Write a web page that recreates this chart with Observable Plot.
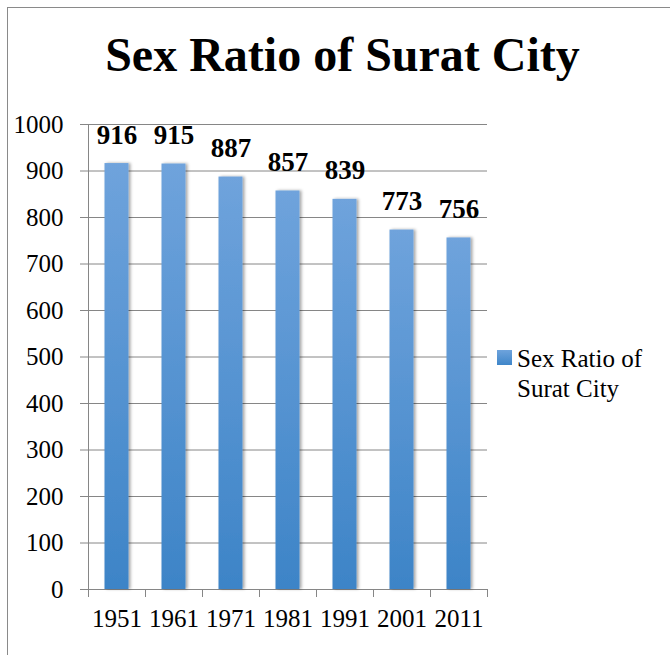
<!DOCTYPE html>
<html>
<head>
<meta charset="utf-8">
<script src="https://cdn.jsdelivr.net/npm/d3@7"></script>
<script src="https://cdn.jsdelivr.net/npm/@observablehq/plot@0.6"></script>
<style>
  body { margin: 0; background: #fff; }
  #wrap { position: relative; width: 670px; height: 655px; overflow: hidden; font-family: "Liberation Serif", "Times New Roman", serif; }
  #border { position: absolute; left: 7px; top: 7px; width: 700px; height: 700px; border-top: 1px solid #8a8a8a; border-left: 1px solid #8a8a8a; }
  #title { position: absolute; left: 0; width: 685px; top: 27px; text-align: center; font-weight: bold; font-size: 48px; line-height: 56px; color: #000; }
  #legend { position: absolute; left: 497px; top: 344px; font-size: 25px; line-height: 30px; color: #000; }
  #legend .sw { position: absolute; left: 0; top: 6px; width: 15px; height: 15px; background: linear-gradient(#6ea3dc, #3f86c9); }
  #legend .tx { margin-left: 20px; }
  #chart { position: absolute; left: 0; top: 0; width: 670px; height: 655px; }
</style>
</head>
<body>
<div id="wrap">
  <div id="border"></div>
  <div id="chart"></div>
  <div id="title"></div>
  <div id="legend"><div class="sw"></div><div class="tx"></div></div>
</div>
<script>
const title = "Sex Ratio of Surat City";
const seriesName = "Sex Ratio of Surat City";
const legendLines = ["Sex Ratio of", "Surat City"];
const years = ["1951", "1961", "1971", "1981", "1991", "2001", "2011"];
const ratios = [916, 915, 887, 857, 839, 773, 756];
const yTicks = [0, 100, 200, 300, 400, 500, 600, 700, 800, 900, 1000];

const data = years.map((year, i) => ({year, ratio: ratios[i]}));

document.getElementById("title").textContent = title;
document.querySelector("#legend .tx").innerHTML = legendLines.join("<br>");

const W = 670, H = 655;
const mL = 88, mR = 183, mT = 124, mB = 66;
const bw = (W - mL - mR) / years.length;
const inset = (bw - 24) / 2;
const gray = "#868686";
const font = "'Liberation Serif', 'Times New Roman', serif";

const chart = Plot.plot({
  width: W,
  height: H,
  marginLeft: mL,
  marginRight: mR,
  marginTop: mT,
  marginBottom: mB,
  style: {fontFamily: font, fontSize: "25px", color: "#000", background: "transparent"},
  x: {domain: years, padding: 0, label: null},
  y: {domain: [0, 1000], label: null},
  marks: [
    Plot.gridY(yTicks, {stroke: gray, strokeOpacity: 1}),
    Plot.axisY(yTicks, {tickSize: 8, tickFormat: () => "", stroke: gray, strokeOpacity: 1, label: null}),
    Plot.axisY(yTicks, {tickSize: 0, tickPadding: 25, tickFormat: d => String(d), fontSize: 25, fill: "#000", label: null}),
    Plot.ruleX([0], {x: () => years[0], dx: -bw / 2, y1: 0, y2: 1000, stroke: gray}),
    Plot.axisX(years, {tickSize: 8, dx: -bw / 2, tickFormat: () => "", stroke: gray, label: null}),
    Plot.axisX([years[years.length - 1]], {tickSize: 8, dx: bw / 2, tickFormat: () => "", stroke: gray, label: null}),
    Plot.axisX(years, {tickSize: 0, tickPadding: 20, fontSize: 25, fill: "#000", label: null}),
    Plot.barY(data, {x: "year", y: "ratio", fill: "url(#barGrad)", insetLeft: inset, insetRight: inset, title: d => `${seriesName}: ${d.ratio}`}),
    Plot.text(data, {x: "year", y: "ratio", text: d => String(d.ratio), lineAnchor: "bottom", dy: -20, fontSize: 27, fontWeight: "bold", fill: "#000"})
  ]
});

const ns = "http://www.w3.org/2000/svg";
const defs = document.createElementNS(ns, "defs");
defs.innerHTML = `
  <linearGradient id="barGrad" x1="0" y1="0" x2="0" y2="1">
    <stop offset="0" stop-color="#6fa3dc"/>
    <stop offset="1" stop-color="#3d84c7"/>
  </linearGradient>
  <filter id="barShadow" x="-30%" y="-5%" width="160%" height="110%">
    <feDropShadow dx="2" dy="0" stdDeviation="1.6" flood-color="#000" flood-opacity="0.35"/>
  </filter>`;
chart.insertBefore(defs, chart.firstChild);
chart.querySelectorAll("rect").forEach(r => {
  if (r.getAttribute("fill") === "url(#barGrad)" || (r.parentNode && r.parentNode.getAttribute("fill") === "url(#barGrad)")) {
    r.setAttribute("filter", "url(#barShadow)");
  }
});
document.getElementById("chart").appendChild(chart);
</script>
</body>
</html>
